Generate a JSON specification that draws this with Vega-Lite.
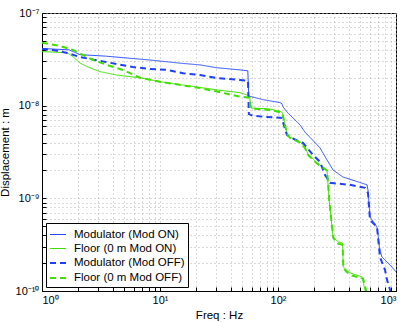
{
  "$schema": "https://vega.github.io/schema/vega-lite/v6.json",
  "width": 354,
  "height": 278,
  "autosize": {"type": "none"},
  "padding": {"left": 42, "top": 13, "right": 10, "bottom": 31},
  "background": "white",
  "config": {
    "view": {"stroke": "black", "strokeWidth": 1},
    "font": "Liberation Sans",
    "axis": {
      "domainColor": "black",
      "tickColor": "black",
      "labelColor": "black",
      "titleColor": "black",
      "labelFont": "Liberation Sans",
      "titleFont": "Liberation Sans",
      "titleFontWeight": "normal",
      "labelFontSize": 11,
      "titleFontSize": 11.5,
      "grid": true,
      "gridColor": "#b4b4b4",
      "gridDash": [1, 3],
      "gridWidth": 1,
      "tickSize": -4,
      "labelPadding": 7
    },
    "legend": {
      "labelFont": "Liberation Sans",
      "labelFontSize": 11.5,
      "labelColor": "black"
    }
  },
  "data": {
    "values": [
      {"s": "Modulator (Mod ON)", "f": 1, "d": 4.14e-8},
      {"s": "Modulator (Mod ON)", "f": 1.7, "d": 4.0e-8},
      {"s": "Modulator (Mod ON)", "f": 2.1, "d": 3.55e-8},
      {"s": "Modulator (Mod ON)", "f": 3.5, "d": 3.42e-8},
      {"s": "Modulator (Mod ON)", "f": 8.2, "d": 3.11e-8},
      {"s": "Modulator (Mod ON)", "f": 15, "d": 2.87e-8},
      {"s": "Modulator (Mod ON)", "f": 22, "d": 2.75e-8},
      {"s": "Modulator (Mod ON)", "f": 30, "d": 2.57e-8},
      {"s": "Modulator (Mod ON)", "f": 48, "d": 2.43e-8},
      {"s": "Modulator (Mod ON)", "f": 55.5, "d": 2.38e-8},
      {"s": "Modulator (Mod ON)", "f": 56.5, "d": 1.28e-8},
      {"s": "Modulator (Mod ON)", "f": 58, "d": 1.26e-8},
      {"s": "Modulator (Mod ON)", "f": 75, "d": 1.16e-8},
      {"s": "Modulator (Mod ON)", "f": 104, "d": 1.08e-8},
      {"s": "Modulator (Mod ON)", "f": 108, "d": 1.05e-8},
      {"s": "Modulator (Mod ON)", "f": 110, "d": 9.75e-9},
      {"s": "Modulator (Mod ON)", "f": 119, "d": 8.55e-9},
      {"s": "Modulator (Mod ON)", "f": 154, "d": 6.19e-9},
      {"s": "Modulator (Mod ON)", "f": 169, "d": 5.2e-9},
      {"s": "Modulator (Mod ON)", "f": 227, "d": 3.5e-9},
      {"s": "Modulator (Mod ON)", "f": 260, "d": 2.6e-9},
      {"s": "Modulator (Mod ON)", "f": 293, "d": 2.02e-9},
      {"s": "Modulator (Mod ON)", "f": 355, "d": 1.7e-9},
      {"s": "Modulator (Mod ON)", "f": 568, "d": 1.4e-9},
      {"s": "Modulator (Mod ON)", "f": 579, "d": 1.23e-9},
      {"s": "Modulator (Mod ON)", "f": 602, "d": 6.3e-10},
      {"s": "Modulator (Mod ON)", "f": 690, "d": 4.91e-10},
      {"s": "Modulator (Mod ON)", "f": 731, "d": 2.78e-10},
      {"s": "Modulator (Mod ON)", "f": 760, "d": 2.33e-10},
      {"s": "Modulator (Mod ON)", "f": 890, "d": 1.91e-10},
      {"s": "Modulator (Mod ON)", "f": 1000, "d": 1.61e-10},

      {"s": "Floor (0 m Mod ON)", "f": 1, "d": 3.83e-8},
      {"s": "Floor (0 m Mod ON)", "f": 1.63, "d": 3.73e-8},
      {"s": "Floor (0 m Mod ON)", "f": 1.83, "d": 3.38e-8},
      {"s": "Floor (0 m Mod ON)", "f": 2.1, "d": 2.89e-8},
      {"s": "Floor (0 m Mod ON)", "f": 2.4, "d": 2.64e-8},
      {"s": "Floor (0 m Mod ON)", "f": 3.1, "d": 2.33e-8},
      {"s": "Floor (0 m Mod ON)", "f": 4.3, "d": 2.14e-8},
      {"s": "Floor (0 m Mod ON)", "f": 6.8, "d": 2.0e-8},
      {"s": "Floor (0 m Mod ON)", "f": 10, "d": 1.81e-8},
      {"s": "Floor (0 m Mod ON)", "f": 15.7, "d": 1.67e-8},
      {"s": "Floor (0 m Mod ON)", "f": 30.4, "d": 1.48e-8},
      {"s": "Floor (0 m Mod ON)", "f": 47.6, "d": 1.38e-8},
      {"s": "Floor (0 m Mod ON)", "f": 55, "d": 1.3e-8},
      {"s": "Floor (0 m Mod ON)", "f": 57.5, "d": 1.25e-8},
      {"s": "Floor (0 m Mod ON)", "f": 59, "d": 9.44e-9},
      {"s": "Floor (0 m Mod ON)", "f": 85, "d": 9.21e-9},
      {"s": "Floor (0 m Mod ON)", "f": 104, "d": 8.7e-9},
      {"s": "Floor (0 m Mod ON)", "f": 108, "d": 8.55e-9},
      {"s": "Floor (0 m Mod ON)", "f": 110, "d": 7.94e-9},
      {"s": "Floor (0 m Mod ON)", "f": 119, "d": 5.08e-9},
      {"s": "Floor (0 m Mod ON)", "f": 126, "d": 4.59e-9},
      {"s": "Floor (0 m Mod ON)", "f": 154, "d": 4.06e-9},
      {"s": "Floor (0 m Mod ON)", "f": 169, "d": 3.58e-9},
      {"s": "Floor (0 m Mod ON)", "f": 180, "d": 3.0e-9},
      {"s": "Floor (0 m Mod ON)", "f": 214, "d": 2.41e-9},
      {"s": "Floor (0 m Mod ON)", "f": 260, "d": 2.02e-9},
      {"s": "Floor (0 m Mod ON)", "f": 265, "d": 1.47e-9},
      {"s": "Floor (0 m Mod ON)", "f": 271, "d": 9.6e-10},
      {"s": "Floor (0 m Mod ON)", "f": 287, "d": 4.91e-10},
      {"s": "Floor (0 m Mod ON)", "f": 293, "d": 3.83e-10},
      {"s": "Floor (0 m Mod ON)", "f": 322, "d": 3.39e-10},
      {"s": "Floor (0 m Mod ON)", "f": 352, "d": 3.3e-10},
      {"s": "Floor (0 m Mod ON)", "f": 357, "d": 1.82e-10},
      {"s": "Floor (0 m Mod ON)", "f": 407, "d": 1.57e-10},
      {"s": "Floor (0 m Mod ON)", "f": 515, "d": 1.42e-10},
      {"s": "Floor (0 m Mod ON)", "f": 530, "d": 1.2e-10},
      {"s": "Floor (0 m Mod ON)", "f": 560, "d": 9.0e-11},

      {"s": "Modulator (Mod OFF)", "f": 1, "d": 4.09e-8},
      {"s": "Modulator (Mod OFF)", "f": 1.24, "d": 3.99e-8},
      {"s": "Modulator (Mod OFF)", "f": 1.63, "d": 3.71e-8},
      {"s": "Modulator (Mod OFF)", "f": 2.1, "d": 3.35e-8},
      {"s": "Modulator (Mod OFF)", "f": 3.1, "d": 3.04e-8},
      {"s": "Modulator (Mod OFF)", "f": 5.9, "d": 2.61e-8},
      {"s": "Modulator (Mod OFF)", "f": 8.2, "d": 2.49e-8},
      {"s": "Modulator (Mod OFF)", "f": 11.5, "d": 2.43e-8},
      {"s": "Modulator (Mod OFF)", "f": 15.7, "d": 2.24e-8},
      {"s": "Modulator (Mod OFF)", "f": 21.8, "d": 2.14e-8},
      {"s": "Modulator (Mod OFF)", "f": 30.4, "d": 1.99e-8},
      {"s": "Modulator (Mod OFF)", "f": 47.6, "d": 1.89e-8},
      {"s": "Modulator (Mod OFF)", "f": 55.7, "d": 1.85e-8},
      {"s": "Modulator (Mod OFF)", "f": 56.6, "d": 8.1e-9},
      {"s": "Modulator (Mod OFF)", "f": 61, "d": 7.8e-9},
      {"s": "Modulator (Mod OFF)", "f": 75, "d": 7.6e-9},
      {"s": "Modulator (Mod OFF)", "f": 108, "d": 7.36e-9},
      {"s": "Modulator (Mod OFF)", "f": 110, "d": 6.67e-9},
      {"s": "Modulator (Mod OFF)", "f": 119, "d": 4.83e-9},
      {"s": "Modulator (Mod OFF)", "f": 126, "d": 4.59e-9},
      {"s": "Modulator (Mod OFF)", "f": 154, "d": 4.06e-9},
      {"s": "Modulator (Mod OFF)", "f": 163, "d": 3.96e-9},
      {"s": "Modulator (Mod OFF)", "f": 198, "d": 2.94e-9},
      {"s": "Modulator (Mod OFF)", "f": 227, "d": 2.47e-9},
      {"s": "Modulator (Mod OFF)", "f": 250, "d": 1.79e-9},
      {"s": "Modulator (Mod OFF)", "f": 276, "d": 1.47e-9},
      {"s": "Modulator (Mod OFF)", "f": 407, "d": 1.4e-9},
      {"s": "Modulator (Mod OFF)", "f": 546, "d": 1.3e-9},
      {"s": "Modulator (Mod OFF)", "f": 579, "d": 1.14e-9},
      {"s": "Modulator (Mod OFF)", "f": 602, "d": 5.85e-10},
      {"s": "Modulator (Mod OFF)", "f": 690, "d": 4.91e-10},
      {"s": "Modulator (Mod OFF)", "f": 718, "d": 2.99e-10},
      {"s": "Modulator (Mod OFF)", "f": 731, "d": 2.33e-10},
      {"s": "Modulator (Mod OFF)", "f": 807, "d": 1.69e-10},
      {"s": "Modulator (Mod OFF)", "f": 839, "d": 1.32e-10},
      {"s": "Modulator (Mod OFF)", "f": 890, "d": 1.03e-10},
      {"s": "Modulator (Mod OFF)", "f": 920, "d": 9.0e-11},

      {"s": "Floor (0 m Mod OFF)", "f": 1, "d": 4.78e-8},
      {"s": "Floor (0 m Mod OFF)", "f": 1.42, "d": 4.41e-8},
      {"s": "Floor (0 m Mod OFF)", "f": 1.83, "d": 3.99e-8},
      {"s": "Floor (0 m Mod OFF)", "f": 2.22, "d": 3.53e-8},
      {"s": "Floor (0 m Mod OFF)", "f": 2.71, "d": 3.11e-8},
      {"s": "Floor (0 m Mod OFF)", "f": 3.56, "d": 2.75e-8},
      {"s": "Floor (0 m Mod OFF)", "f": 4.86, "d": 2.43e-8},
      {"s": "Floor (0 m Mod OFF)", "f": 6.77, "d": 2.0e-8},
      {"s": "Floor (0 m Mod OFF)", "f": 10, "d": 1.81e-8},
      {"s": "Floor (0 m Mod OFF)", "f": 21.8, "d": 1.55e-8},
      {"s": "Floor (0 m Mod OFF)", "f": 30.4, "d": 1.42e-8},
      {"s": "Floor (0 m Mod OFF)", "f": 47.6, "d": 1.25e-8},
      {"s": "Floor (0 m Mod OFF)", "f": 57, "d": 1.22e-8},
      {"s": "Floor (0 m Mod OFF)", "f": 59, "d": 9.3e-9},
      {"s": "Floor (0 m Mod OFF)", "f": 85, "d": 9.0e-9},
      {"s": "Floor (0 m Mod OFF)", "f": 104, "d": 8.5e-9},
      {"s": "Floor (0 m Mod OFF)", "f": 108, "d": 8.4e-9},
      {"s": "Floor (0 m Mod OFF)", "f": 110, "d": 7.8e-9},
      {"s": "Floor (0 m Mod OFF)", "f": 119, "d": 5.0e-9},
      {"s": "Floor (0 m Mod OFF)", "f": 126, "d": 4.5e-9},
      {"s": "Floor (0 m Mod OFF)", "f": 154, "d": 4.0e-9},
      {"s": "Floor (0 m Mod OFF)", "f": 169, "d": 3.5e-9},
      {"s": "Floor (0 m Mod OFF)", "f": 180, "d": 2.95e-9},
      {"s": "Floor (0 m Mod OFF)", "f": 214, "d": 2.38e-9},
      {"s": "Floor (0 m Mod OFF)", "f": 260, "d": 2.0e-9},
      {"s": "Floor (0 m Mod OFF)", "f": 266, "d": 1.45e-9},
      {"s": "Floor (0 m Mod OFF)", "f": 272, "d": 9.4e-10},
      {"s": "Floor (0 m Mod OFF)", "f": 288, "d": 4.8e-10},
      {"s": "Floor (0 m Mod OFF)", "f": 294, "d": 3.75e-10},
      {"s": "Floor (0 m Mod OFF)", "f": 322, "d": 3.25e-10},
      {"s": "Floor (0 m Mod OFF)", "f": 353, "d": 3.15e-10},
      {"s": "Floor (0 m Mod OFF)", "f": 358, "d": 1.75e-10},
      {"s": "Floor (0 m Mod OFF)", "f": 407, "d": 1.49e-10},
      {"s": "Floor (0 m Mod OFF)", "f": 525, "d": 1.36e-10},
      {"s": "Floor (0 m Mod OFF)", "f": 540, "d": 1.2e-10},
      {"s": "Floor (0 m Mod OFF)", "f": 570, "d": 9.0e-11}
    ]
  },
  "mark": {"type": "line", "clip": true, "interpolate": "linear"},
  "encoding": {
    "x": {
      "field": "f",
      "type": "quantitative",
      "scale": {"type": "log", "domain": [1, 1000], "nice": false},
      "axis": {
        "title": "Freq : Hz",
        "titlePadding": 4,
        "values": [1, 2, 3, 4, 5, 6, 7, 8, 9, 10, 20, 30, 40, 50, 60, 70, 80, 90, 100, 200, 300, 400, 500, 600, 700, 800, 900, 1000],
        "labelExpr": "abs(log(datum.value)/LN10 - round(log(datum.value)/LN10)) < 0.01 ? (round(log(datum.value)/LN10) == 0 ? '10⁰' : round(log(datum.value)/LN10) == 1 ? '10¹' : round(log(datum.value)/LN10) == 2 ? '10²' : '10³') : ''"
      }
    },
    "y": {
      "field": "d",
      "type": "quantitative",
      "scale": {"type": "log", "domain": [1e-10, 1e-7], "nice": false},
      "axis": {
        "title": "Displacement : m",
        "titlePadding": 5,
        "values": [1e-10, 2e-10, 3e-10, 4e-10, 5e-10, 6e-10, 7e-10, 8e-10, 9e-10, 1e-9, 2e-9, 3e-9, 4e-9, 5e-9, 6e-9, 7e-9, 8e-9, 9e-9, 1e-8, 2e-8, 3e-8, 4e-8, 5e-8, 6e-8, 7e-8, 8e-8, 9e-8, 1e-7],
        "labelExpr": "abs(log(datum.value)/LN10 - round(log(datum.value)/LN10)) < 0.01 ? (round(log(datum.value)/LN10) == -7 ? '10⁻⁷' : round(log(datum.value)/LN10) == -8 ? '10⁻⁸' : round(log(datum.value)/LN10) == -9 ? '10⁻⁹' : '10⁻¹⁰') : ''"
      }
    },
    "color": {
      "field": "s",
      "type": "nominal",
      "scale": {
        "domain": ["Modulator (Mod ON)", "Floor (0 m Mod ON)", "Modulator (Mod OFF)", "Floor (0 m Mod OFF)"],
        "range": ["#2a4cff", "#3ee000", "#1f3fff", "#3ee000"]
      },
      "legend": {
        "title": null,
        "orient": "bottom-left",
        "offset": 4,
        "padding": 3,
        "rowPadding": -4,
        "strokeColor": "black",
        "fillColor": "white",
        "symbolType": "stroke",
        "symbolSize": 256,
        "labelOffset": 7
      }
    },
    "strokeDash": {
      "field": "s",
      "type": "nominal",
      "scale": {
        "domain": ["Modulator (Mod ON)", "Floor (0 m Mod ON)", "Modulator (Mod OFF)", "Floor (0 m Mod OFF)"],
        "range": [[1, 0], [1, 0], [6, 4], [6, 4]]
      },
      "legend": null
    },
    "strokeWidth": {
      "field": "s",
      "type": "nominal",
      "scale": {
        "type": "ordinal",
        "domain": ["Modulator (Mod ON)", "Floor (0 m Mod ON)", "Modulator (Mod OFF)", "Floor (0 m Mod OFF)"],
        "range": [1, 1, 2, 2]
      },
      "legend": null
    }
  }
}
